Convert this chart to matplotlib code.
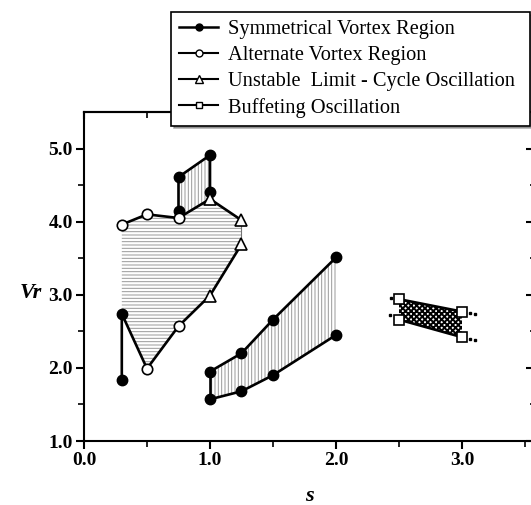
import numpy as np
import matplotlib.pyplot as plt
from matplotlib.lines import Line2D

plt.rcParams['font.family'] = ['Liberation Serif', 'DejaVu Serif']
plt.rcParams['hatch.linewidth'] = 0.7

# Symmetrical vortex region (filled circles)
sym_left_x = [0.3, 0.3]
sym_left_y = [1.83, 2.74]
sym_top_x = [0.75, 0.75, 1.0, 1.0]
sym_top_y = [4.15, 4.61, 4.91, 4.40]
sym_up_x = [1.0, 1.25, 1.5, 2.0]
sym_up_y = [1.95, 2.20, 2.66, 3.51]
sym_lo_x = [1.0, 1.25, 1.5, 2.0]
sym_lo_y = [1.57, 1.68, 1.90, 2.45]

# Alternate vortex region (open circles)
alt_up_x = [0.3, 0.5, 0.75]
alt_up_y = [3.96, 4.10, 4.05]
alt_lo_x = [0.5, 0.75]
alt_lo_y = [1.99, 2.57]

# Unstable limit-cycle oscillation (triangles)
lco_up_x = [1.0, 1.25]
lco_up_y = [4.31, 4.02]
lco_lo_x = [1.0, 1.25]
lco_lo_y = [2.99, 3.69]

# Buffeting oscillation (squares) and the dotted tails
buf_up_x = [2.5, 3.0]
buf_up_y = [2.94, 2.77]
buf_lo_x = [2.5, 3.0]
buf_lo_y = [2.66, 2.42]
buf_tail_x = [2.44, 2.43, 3.06, 3.1, 3.06, 3.1]
buf_tail_y = [2.96, 2.73, 2.75, 2.74, 2.40, 2.38]

labels = ["Symmetrical Vortex Region", "Alternate Vortex Region",
          "Unstable  Limit - Cycle Oscillation", "Buffeting Oscillation"]

W, H = 531, 505
fig = plt.figure(figsize=(W / 100, H / 100), dpi=100)
ax = fig.add_axes([84 / W, 64 / H, (533 - 84) / W, (441 - 112) / H])
ax.set_xlim(0, (533 - 84) / 126)
ax.set_ylim(1.0, 5.5)

line_kw = dict(color='black', lw=1.9, zorder=3)
filled = dict(ls='none', marker='o', ms=7.5, mfc='black', mec='black', zorder=5)
opencirc = dict(ls='none', marker='o', ms=7.5, mfc='white', mec='black', mew=1.2, zorder=5)
tri = dict(ls='none', marker='^', ms=9, mfc='white', mec='black', mew=1.2, zorder=5)
sq = dict(ls='none', marker='s', ms=6.5, mfc='white', mec='black', mew=1.2, zorder=5)

# hatched regions
big_x = alt_up_x + lco_up_x + lco_lo_x[::-1] + alt_lo_x[::-1] + sym_left_x[-1:]
big_y = alt_up_y + lco_up_y + lco_lo_y[::-1] + alt_lo_y[::-1] + sym_left_y[-1:]
ax.fill(big_x, big_y, facecolor='none', edgecolor='0.6', hatch='-----', lw=0, zorder=1)

top_x = sym_top_x[1:3] + [lco_up_x[0], alt_up_x[-1]]
top_y = sym_top_y[1:3] + [lco_up_y[0], alt_up_y[-1]]
ax.fill(top_x, top_y, facecolor='none', edgecolor='0.6', hatch='|||||', lw=0, zorder=1)

mid_x = sym_up_x + sym_lo_x[::-1]
mid_y = sym_up_y + sym_lo_y[::-1]
ax.fill(mid_x, mid_y, facecolor='none', edgecolor='0.6', hatch='|||||', lw=0, zorder=1)

# buffeting band: dense checker-like cross hatch
buf_x = buf_up_x + buf_lo_x[::-1]
buf_y = buf_up_y + buf_lo_y[::-1]
with plt.rc_context({'hatch.linewidth': 1.4}):
    ax.fill(buf_x, buf_y, facecolor='white', edgecolor='black', hatch='xxxxxx', lw=0, zorder=1)

# boundary lines
ax.plot(sym_left_x + alt_lo_x + lco_lo_x, sym_left_y + alt_lo_y + lco_lo_y, **line_kw)
ax.plot(alt_up_x + lco_up_x, alt_up_y + lco_up_y, **line_kw)
ax.plot(sym_top_x, sym_top_y, **line_kw)
ax.plot([lco_up_x[1], lco_lo_x[1]], [lco_up_y[1], lco_lo_y[1]], color='0.45', lw=0.8, zorder=2)
ax.plot(sym_up_x, sym_up_y, **line_kw)
ax.plot(sym_lo_x, sym_lo_y, **line_kw)
ax.plot([sym_lo_x[0], sym_up_x[0]], [sym_lo_y[0], sym_up_y[0]], **line_kw)
ax.plot(buf_up_x, buf_up_y, **line_kw)
ax.plot(buf_lo_x, buf_lo_y, **line_kw)
ax.plot(buf_tail_x, buf_tail_y, ls='none', marker='s', ms=2, color='black', zorder=3)

# markers
ax.plot(sym_left_x + sym_top_x + sym_up_x + sym_lo_x,
        sym_left_y + sym_top_y + sym_up_y + sym_lo_y, **filled)
ax.plot(alt_up_x + alt_lo_x, alt_up_y + alt_lo_y, **opencirc)
ax.plot(lco_up_x + lco_lo_x, lco_up_y + lco_lo_y, **tri)
ax.plot(buf_up_x + buf_lo_x, buf_up_y + buf_lo_y, **sq)

# axes styling
for side in ['left', 'bottom', 'top']:
    ax.spines[side].set_linewidth(1.5)
ax.spines['right'].set_visible(False)
ax.set_xticks([0.0, 1.0, 2.0, 3.0])
ax.set_xticks([0.5, 1.5, 2.5, 3.5], minor=True)
ax.set_yticks([1.0, 2.0, 3.0, 4.0, 5.0])
ax.set_yticks([1.5, 2.5, 3.5, 4.5], minor=True)
ax.set_xticklabels(['0.0', '1.0', '2.0', '3.0'], fontsize=14, fontweight='bold')
ax.set_yticklabels(['1.0', '2.0', '3.0', '4.0', '5.0'], fontsize=14, fontweight='bold')
ax.tick_params(which='major', direction='out', length=6, width=1.5, pad=2)
ax.tick_params(which='minor', direction='out', length=4, width=1.2)

sec_y = ax.secondary_yaxis('right')
sec_y.set_yticks([1.0, 2.0, 3.0, 4.0, 5.0])
sec_y.set_yticks([1.5, 2.5, 3.5, 4.5], minor=True)
sec_y.tick_params(which='major', direction='in', length=5, width=1.5, labelright=False)
sec_y.tick_params(which='minor', direction='in', length=2, width=1.2)
sec_y.spines['right'].set_visible(False)

sec_x = ax.secondary_xaxis('top')
sec_x.set_xticks([0.0, 1.0, 2.0, 3.0])
sec_x.set_xticks([0.5, 1.5, 2.5, 3.5], minor=True)
sec_x.tick_params(which='major', direction='in', length=5, width=1.5, labeltop=False)
sec_x.tick_params(which='minor', direction='in', length=4, width=1.2)
sec_x.spines['top'].set_linewidth(1.5)

fig.text(31 / W, 1 - 293 / H, 'Vr', fontsize=16, fontweight='bold', style='italic',
         ha='center', va='center')
fig.text(309 / W, 1 - 496 / H, 's', fontsize=16, fontweight='bold', style='italic',
         ha='center', va='center')

handles = [
    Line2D([], [], color='black', lw=1.8, marker='o', ms=5, mfc='black', mec='black'),
    Line2D([], [], color='black', lw=1.5, marker='o', ms=5, mfc='white', mec='black'),
    Line2D([], [], color='black', lw=1.5, marker='^', ms=6, mfc='white', mec='black'),
    Line2D([], [], color='black', lw=1.5, marker='s', ms=5, mfc='white', mec='black'),
]
leg = fig.legend(handles, labels, loc='upper left', mode='expand',
                 bbox_to_anchor=(171 / W, 1 - 126 / H, (530 - 171) / W, (126 - 12) / H),
                 bbox_transform=fig.transFigure,
                 fontsize=14.7, frameon=True, fancybox=False, shadow={'color': '0.4'},
                 framealpha=1, edgecolor='black', borderaxespad=0, borderpad=0.4,
                 handlelength=1.9, handletextpad=0.5, labelspacing=0.32)
leg.get_frame().set_linewidth(1.2)

fig.savefig('out.png', dpi=100)
